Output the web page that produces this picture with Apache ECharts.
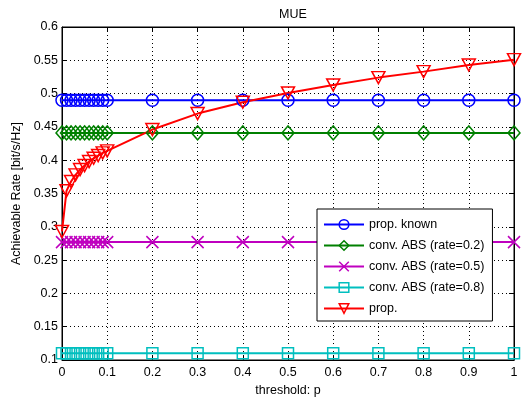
<!DOCTYPE html>
<html>
<head>
<meta charset="utf-8">
<script src="https://cdn.jsdelivr.net/npm/echarts@6/dist/echarts.min.js"></script>
<style>
  html, body { margin: 0; padding: 0; background: #fff; }
  #chart { width: 525px; height: 405px; }
</style>
</head>
<body>
<div id="chart"></div>
<script>
// threshold values p
const thresholds = [0, 0.01, 0.02, 0.03, 0.04, 0.05, 0.06, 0.07, 0.08, 0.09, 0.1,
  0.2, 0.3, 0.4, 0.5, 0.6, 0.7, 0.8, 0.9, 1]

const propKnown = [0.49, 0.49, 0.49, 0.49, 0.49, 0.49, 0.49, 0.49, 0.49, 0.49, 0.49,
  0.49, 0.49, 0.49, 0.49, 0.49, 0.49, 0.49, 0.49, 0.49]
const absRate02 = [0.441, 0.441, 0.441, 0.441, 0.441, 0.441, 0.441, 0.441, 0.441, 0.441, 0.441,
  0.441, 0.441, 0.441, 0.441, 0.441, 0.441, 0.441, 0.441, 0.441]
const absRate05 = [0.277, 0.277, 0.277, 0.277, 0.277, 0.277, 0.277, 0.277, 0.277, 0.277, 0.277,
  0.277, 0.277, 0.277, 0.277, 0.277, 0.277, 0.277, 0.277, 0.277]
const absRate08 = [0.11, 0.11, 0.11, 0.11, 0.11, 0.11, 0.11, 0.11, 0.11, 0.11, 0.11,
  0.11, 0.11, 0.11, 0.11, 0.11, 0.11, 0.11, 0.11, 0.11]
const prop = [0.293, 0.354, 0.368, 0.378, 0.386, 0.392, 0.398, 0.403, 0.407, 0.411, 0.414,
  0.446, 0.470, 0.487, 0.501, 0.513, 0.524, 0.533, 0.543, 0.551]

const seriesNames = ['prop. known', 'conv. ABS (rate=0.2)', 'conv. ABS (rate=0.5)',
  'conv. ABS (rate=0.8)', 'prop.']
const seriesColors = ['#0000ff', '#008000', '#bf00bf', '#00bfbf', '#ff0000']

const font = 'Liberation Sans, Arial, Helvetica, sans-serif'
const fs = 12.5

function pairs(ys) {
  return thresholds.map((x, i) => [x, ys[i]])
}

function makeSeries(name, ys, color, symbol, size) {
  return {
    name,
    type: 'line',
    data: pairs(ys),
    symbol,
    symbolSize: size,
    showAllSymbol: true,
    lineStyle: { color, width: 2 },
    itemStyle: { color: 'rgba(0,0,0,0)', borderColor: color, borderWidth: 1.5 },
    emphasis: { disabled: true },
    animation: false
  }
}

const myChart = echarts.init(document.getElementById('chart'))

const option = {
  backgroundColor: '#fff',
  textStyle: { fontFamily: font },
  title: {
    text: 'MUE',
    left: 288,
    textAlign: 'center',
    top: 3,
    textStyle: { fontSize: fs, fontWeight: 'normal', color: '#000', fontFamily: font }
  },
  grid: {
    left: 62,
    right: 11,
    top: 27,
    bottom: 45,
    show: true,
    borderColor: '#000',
    borderWidth: 1
  },
  legend: {
    orient: 'vertical',
    left: 317,
    top: 209,
    padding: [9, 8, 6, 6],
    itemWidth: 40,
    itemHeight: 12,
    itemGap: 8,
    backgroundColor: '#fff',
    borderColor: '#000',
    borderWidth: 1,
    textStyle: { fontSize: fs, color: '#000', fontFamily: font },
    data: seriesNames.map((name, i) => ({
      name,
      itemStyle: { color: 'rgba(0,0,0,0)', borderColor: seriesColors[i], borderWidth: 1.5 }
    }))
  },
  xAxis: [
    {
      type: 'value',
      min: 0,
      max: 1,
      interval: 0.1,
      name: 'threshold: p',
      nameLocation: 'middle',
      nameGap: 19,
      nameTextStyle: { fontSize: fs, color: '#000' },
      axisLine: { onZero: false, lineStyle: { color: '#000' } },
      axisTick: { inside: true, length: 5, lineStyle: { color: '#000' } },
      axisLabel: { fontSize: fs, color: '#000', margin: 6, formatter: v => String(+v.toFixed(2)) },
      splitLine: { show: true, lineStyle: { color: '#000', type: [1, 3], width: 1 } }
    },
    {
      type: 'value',
      position: 'top',
      min: 0,
      max: 1,
      interval: 0.1,
      axisLine: { onZero: false, lineStyle: { color: '#000' } },
      axisTick: { inside: true, length: 5, lineStyle: { color: '#000' } },
      axisLabel: { show: false },
      splitLine: { show: false }
    }
  ],
  yAxis: [
    {
      type: 'value',
      min: 0.1,
      max: 0.6,
      interval: 0.05,
      name: 'Achievable Rate [bit/s/Hz]',
      nameLocation: 'middle',
      nameGap: 37,
      nameTextStyle: { fontSize: fs, color: '#000' },
      axisLine: { show: true, onZero: false, lineStyle: { color: '#000' } },
      axisTick: { show: true, inside: true, length: 5, lineStyle: { color: '#000' } },
      axisLabel: { fontSize: fs, color: '#000', margin: 4, formatter: v => String(+v.toFixed(2)) },
      splitLine: { show: true, lineStyle: { color: '#000', type: [1, 3], width: 1 } }
    },
    {
      type: 'value',
      position: 'right',
      min: 0.1,
      max: 0.6,
      interval: 0.05,
      axisLine: { show: true, onZero: false, lineStyle: { color: '#000' } },
      axisTick: { show: true, inside: true, length: 5, lineStyle: { color: '#000' } },
      axisLabel: { show: false },
      splitLine: { show: false }
    }
  ],
  series: [
    makeSeries(seriesNames[0], propKnown, seriesColors[0], 'circle', 12),
    makeSeries(seriesNames[1], absRate02, seriesColors[1], 'diamond', [12, 14]),
    makeSeries(seriesNames[2], absRate05, seriesColors[2], 'path://M0,0L10,10M10,0L0,10', 12),
    makeSeries(seriesNames[3], absRate08, seriesColors[3], 'rect', 11),
    makeSeries(seriesNames[4], prop, seriesColors[4], 'path://M0,0L10,0L5,9Z', [13, 12])
  ]
}

myChart.setOption(option)
</script>
</body>
</html>
